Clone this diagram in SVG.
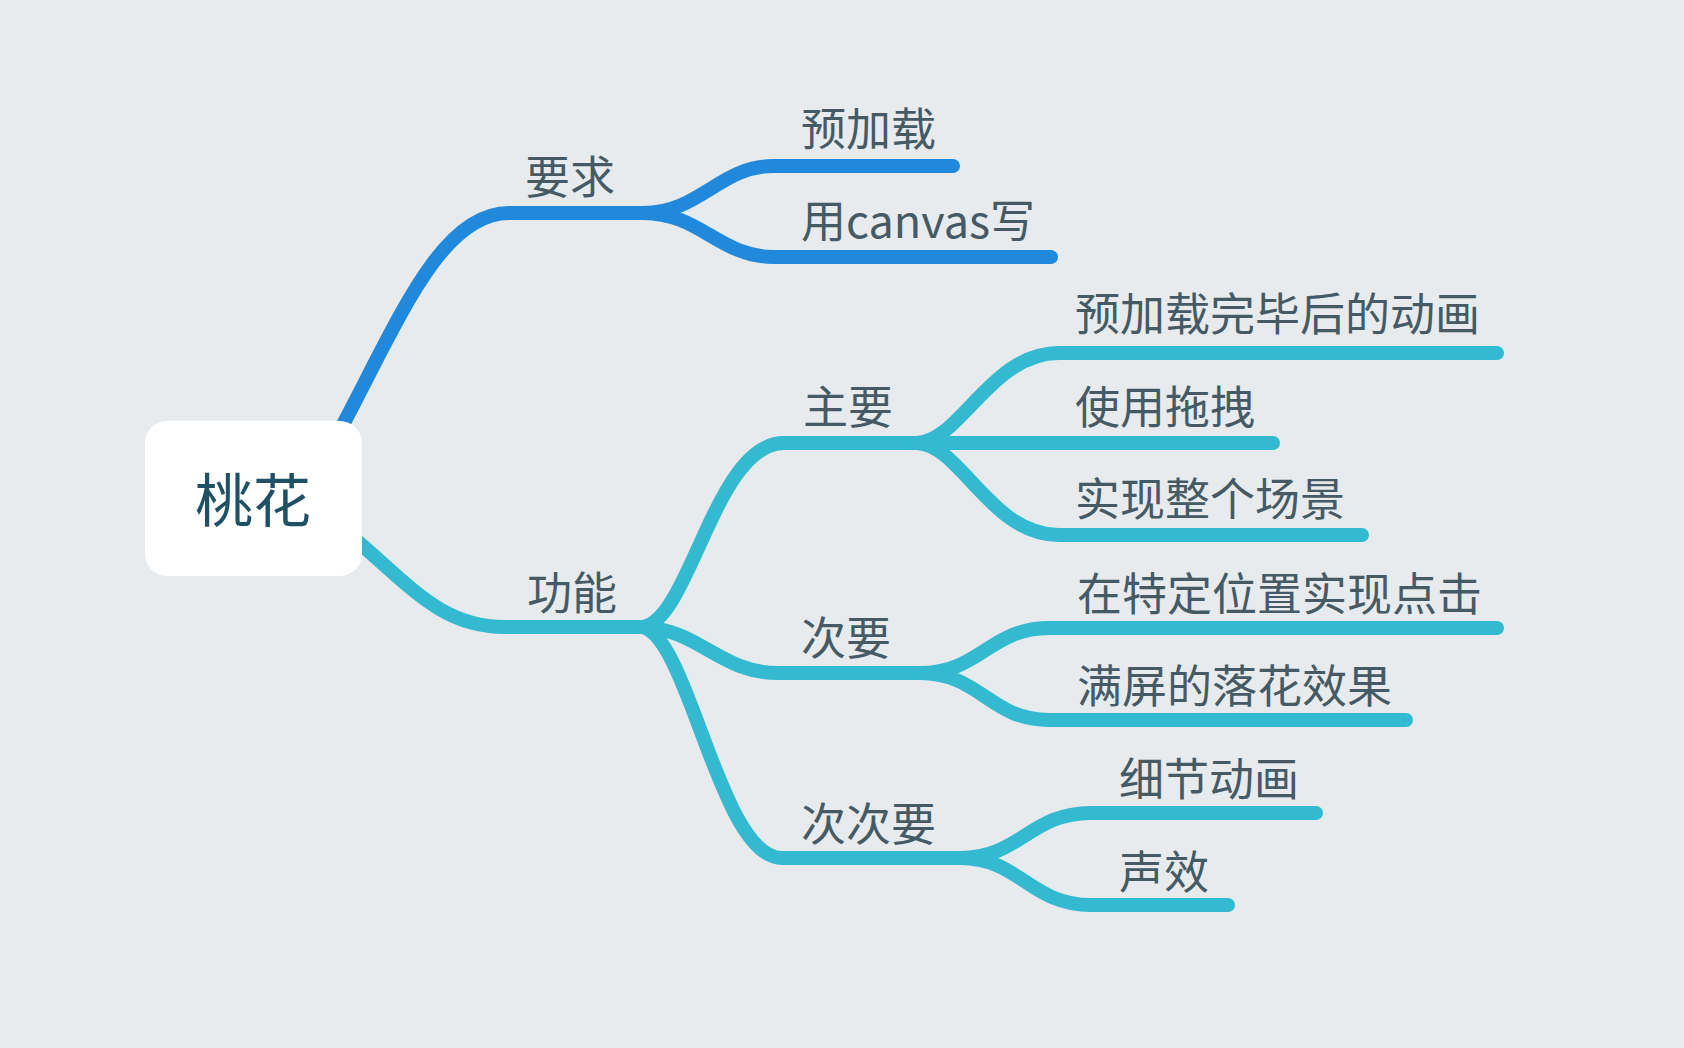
<svg xmlns="http://www.w3.org/2000/svg" width="1684" height="1048" viewBox="0 0 1684 1048">
<style>
.bg{fill:#e7ebee}
.c{fill:none;stroke-width:14;stroke-linecap:round;stroke-linejoin:round}
.blue{stroke:#2089dc}
.teal{stroke:#33bad1}
.t{font-family:"Noto Sans CJK SC","Noto Sans",sans-serif;font-size:45px;fill:#455a64}
.root{font-family:"Noto Sans CJK SC","Noto Sans",sans-serif;font-size:58px;fill:#1f5166;text-anchor:middle}
</style>
<rect class="bg" x="0" y="0" width="1684" height="1048"/>
<g id="connectors">
<path class="c blue" d="M338,434 C398,322 440,213 509,213 L643,213"/>
<path class="c blue" d="M643,213 C700,213 720,166 773,166 L953,166"/>
<path class="c blue" d="M643,213 C700,213 720,257 773,257 L1051,257"/>
<path class="c teal" d="M350,535 C410,585 440,627 505,627 L643,627"/>
<path class="c teal" d="M643,627 C690,620 715,443 784,443 L916,443"/>
<path class="c teal" d="M643,627 C700,630 720,673 778,673 L920,673"/>
<path class="c teal" d="M643,627 C690,640 720,858 782,858 L960,858"/>
<path class="c teal" d="M916,443 C960,443 990,353 1059,353 L1497,353"/>
<path class="c teal" d="M916,443 L1273,443"/>
<path class="c teal" d="M916,443 C960,443 990,535 1059,535 L1362,535"/>
<path class="c teal" d="M920,673 C980,673 990,628 1049,628 L1497,628"/>
<path class="c teal" d="M920,673 C980,673 990,720 1049,720 L1406,720"/>
<path class="c teal" d="M960,858 C1020,858 1030,813 1091,813 L1316,813"/>
<path class="c teal" d="M960,858 C1020,858 1030,905 1091,905 L1228,905"/>
</g>
<g id="root">
<rect x="145" y="421" width="217" height="155" rx="22" fill="#ffffff"/>
<text class="root" x="253" y="522">桃花</text>
</g>
<g id="n-yaoqiu"><text class="t" x="525" y="194">要求</text></g>
<g id="n-yujiazai"><text class="t" x="801" y="146">预加载</text></g>
<g id="n-canvas"><text class="t" x="801" y="238">用canvas写</text></g>
<g id="n-gongneng"><text class="t" x="527" y="610">功能</text></g>
<g id="n-zhuyao"><text class="t" x="803" y="424">主要</text></g>
<g id="n-ciyao"><text class="t" x="801" y="655">次要</text></g>
<g id="n-cicyao"><text class="t" x="801" y="841">次次要</text></g>
<g id="n-anim"><text class="t" x="1075" y="331">预加载完毕后的动画</text></g>
<g id="n-drag"><text class="t" x="1075" y="424">使用拖拽</text></g>
<g id="n-scene"><text class="t" x="1075" y="516">实现整个场景</text></g>
<g id="n-click"><text class="t" x="1077" y="611">在特定位置实现点击</text></g>
<g id="n-fall"><text class="t" x="1077" y="703">满屏的落花效果</text></g>
<g id="n-detail"><text class="t" x="1119" y="796">细节动画</text></g>
<g id="n-sound"><text class="t" x="1119" y="889">声效</text></g>
</svg>
